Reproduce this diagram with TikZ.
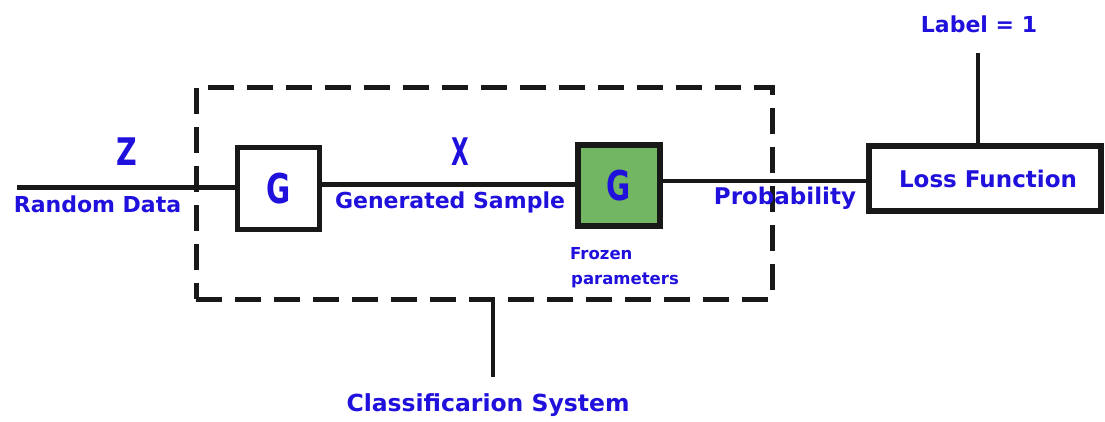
\documentclass[tikz,border=0pt]{standalone}
\usepackage{fontspec}
\usepackage{graphicx}
\setmainfont{DejaVu Sans}
\definecolor{inkblue}{RGB}{32,16,220}
\definecolor{frozengreen}{RGB}{114,181,98}
\definecolor{ink}{RGB}{24,24,24}
\begin{document}
\begin{tikzpicture}[x=1pt,y=-1pt,
  wire/.style={draw=ink,line width=4.5pt},
  block/.style={draw=ink,line width=5.5pt,fill=white,inner sep=0pt,
    text=inkblue,font=\fontsize{41}{41}\selectfont\bfseries},
  lbl/.style={text=inkblue,font=\fontsize{22}{24}\selectfont\bfseries,inner sep=0pt,anchor=base},
  small/.style={text=inkblue,font=\fontsize{16.5}{18}\selectfont\bfseries,inner sep=0pt,anchor=base west},
  big/.style={text=inkblue,font=\fontsize{38}{38}\selectfont\bfseries,inner sep=0pt,anchor=base}]
\useasboundingbox (0,0) rectangle (1105,421);

% classification system boundary
\node[draw=ink,line width=5pt,dash pattern=on 26pt off 13pt,
      minimum width=576pt,minimum height=212pt,inner sep=0pt] (sys) at (484,193) {};

% blocks
\node[block,minimum width=82pt,minimum height=82pt] (G1) at (278.5,188.5) {\scalebox{0.72}[1]{G}};
\node[block,fill=frozengreen,line width=6pt,minimum width=82pt,minimum height=81pt] (G2) at (619,185.5) {\scalebox{0.72}[1]{G}};
\node[block,line width=6pt,minimum width=232pt,minimum height=65pt,
      font=\fontsize{23}{24}\selectfont\bfseries] (loss) at (985,178.5) {\hspace{6pt}Loss Function};

% free ends
\coordinate (start) at (17,187.5);
\coordinate (labelfoot) at (978,53);
\coordinate (sysfoot) at (493,377);

% connectors
\draw[wire] (start) -- (G1.west |- start);
\draw[wire] (G1.east |- 0,184.5) -- (G2.west |- 0,184.5);
\draw[wire] (G2.east |- 0,181) -- (loss.west |- 0,181);
\draw[wire] (loss.north -| labelfoot) -- (labelfoot);
\draw[wire] (sys.south -| sysfoot) -- (sysfoot);

% labels
\node[big] (z) at (127,165) {\scalebox{0.75}[1]{Z}};
\node[big] (x) at (460,165) {\scalebox{0.6}[1]{X}};
\node[lbl] (rd) at (97.5,212) {Random Data};
\node[lbl] (gs) at (450,208) {Generated Sample};
\node[lbl,font=\fontsize{23}{24}\selectfont\bfseries] (pr) at (785,204) {Probability};
\node[lbl] (lab) at (979,32) {Label = 1};
\node[small] (fr) at (570,259) {Frozen};
\node[small] (pa) at (571,284) {parameters};
\node[lbl,font=\fontsize{23.5}{24}\selectfont\bfseries] (cs) at (488,411) {Classificarion System};
\end{tikzpicture}
\end{document}
